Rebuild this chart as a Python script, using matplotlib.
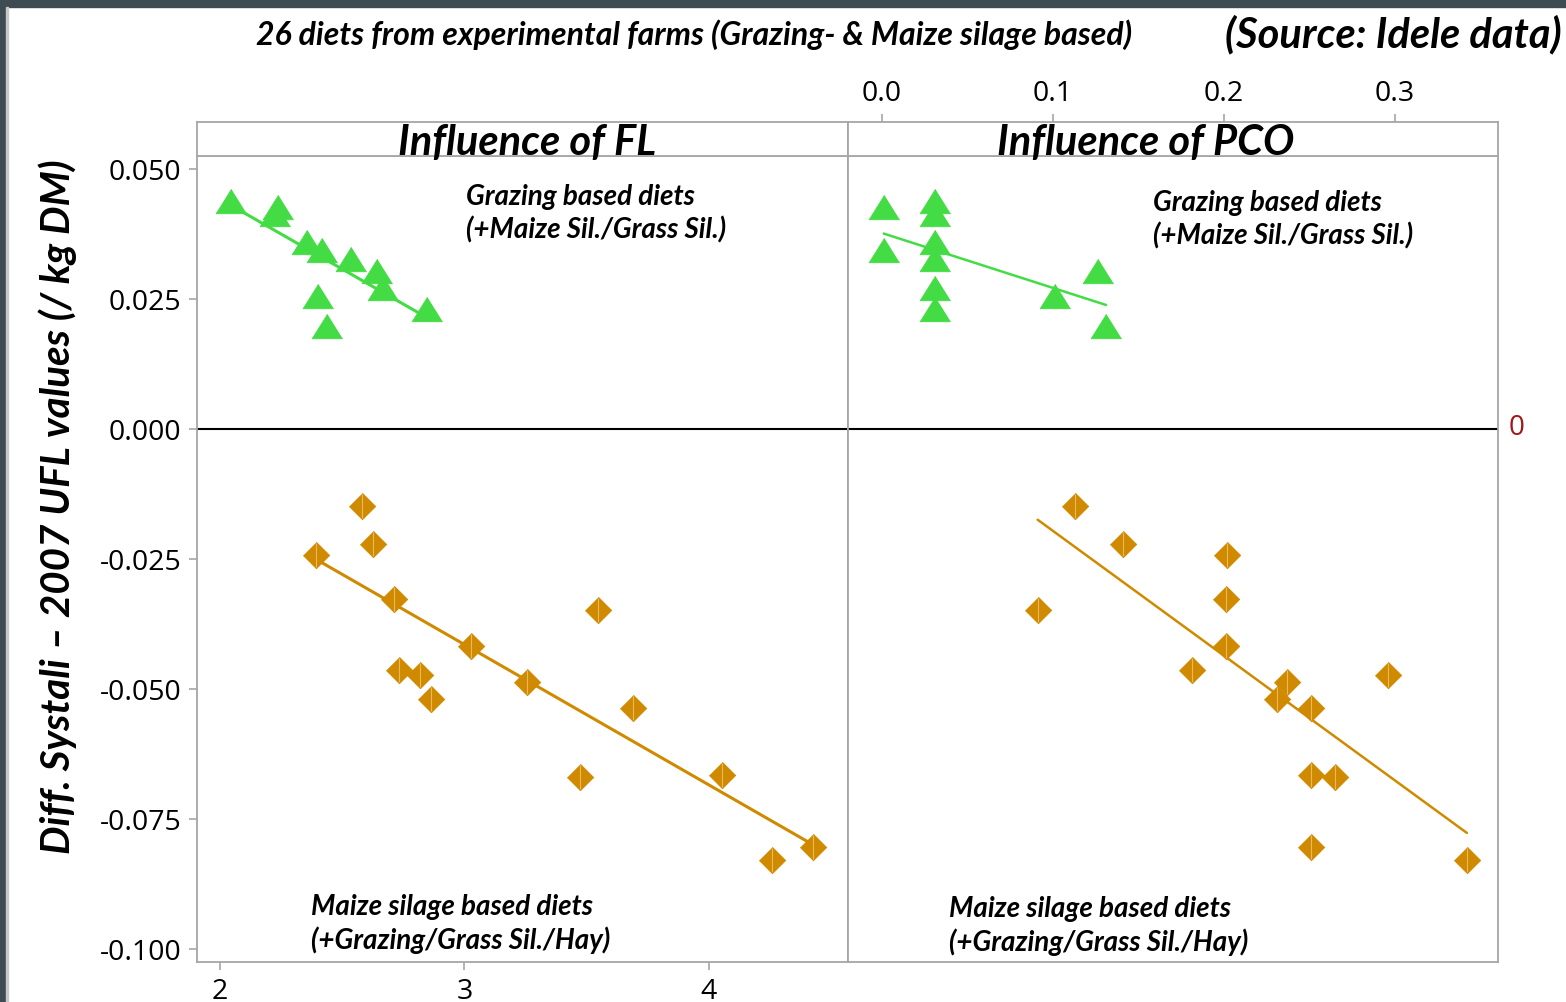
import numpy as np
import matplotlib.pyplot as plt
from matplotlib.patches import Rectangle

# grazing based diets (11) and maize silage based diets (15)
graz_diff = [0.0439, 0.0426, 0.0414, 0.0360, 0.0345, 0.0326, 0.0303, 0.0271, 0.0256, 0.0231, 0.0198]
graz_fl = [2.045, 2.237, 2.225, 2.356, 2.417, 2.536, 2.642, 2.667, 2.401, 2.847, 2.438]
graz_pco = [0.031, 0.001, 0.031, 0.031, 0.001, 0.031, 0.126, 0.031, 0.101, 0.031, 0.131]

maize_diff = [-0.0148, -0.0221, -0.0243, -0.0327, -0.0348, -0.0417, -0.0463, -0.0473,
              -0.0487, -0.0519, -0.0537, -0.0669, -0.0665, -0.0829, -0.0804]
maize_fl = [2.581, 2.626, 2.393, 2.712, 3.546, 3.027, 2.732, 2.818,
            3.256, 2.863, 3.689, 3.472, 4.053, 4.258, 4.425]
maize_pco = [0.113, 0.141, 0.202, 0.201, 0.091, 0.201, 0.181, 0.296,
             0.237, 0.231, 0.251, 0.265, 0.251, 0.342, 0.251]

y_ticks = [0.050, 0.025, 0.000, -0.025, -0.050, -0.075, -0.100]
fl_ticks = [2, 3, 4]
pco_ticks = [0.0, 0.1, 0.2, 0.3]

GREEN = "#44dc44"
ORANGE = "#d08a00"
GRID_GRAY = "#a6a6a6"
FONT = "Lato"

tri = [(0, 0.8), (-1, -0.8), (1, -0.8)]
dia = [(0, 1), (1, 0), (0, -1), (-1, 0)]

W, H = 1566, 1003
fig = plt.figure(figsize=(W / 100, H / 100), dpi=100)
fig.patch.set_facecolor("white")

# slide frame
fig.add_artist(Rectangle((0, 1 - 8 / H), 1, 8 / H, transform=fig.transFigure,
                         color="#3e4b53", zorder=0))
fig.add_artist(Rectangle((0, 0), 6 / W, 1, transform=fig.transFigure,
                         color="#3e4b53", zorder=0))
fig.add_artist(Rectangle((6 / W, 0), 2 / W, 1 - 8 / H, transform=fig.transFigure,
                         color="#c8c8c8", zorder=0))


def fx(px):
    return px / W


def fy(py):
    return 1 - py / H


y_lo, y_hi = -0.1025, 0.0525
ax1 = fig.add_axes([fx(197), fy(963), 651 / W, 806 / H])
ax2 = fig.add_axes([fx(848), fy(963), 650 / W, 806 / H])
ax1.set_xlim(1.906, 4.5685)
ax2.set_xlim(-0.0199, 0.3602)

for ax in (ax1, ax2):
    ax.set_ylim(y_lo, y_hi)
    for s in ax.spines.values():
        s.set_color(GRID_GRAY)
        s.set_linewidth(1.3)
    ax.axhline(0, color="black", lw=1.5, zorder=1)


def draw_group(ax, x, y, color, marker, ms, lw):
    x = np.asarray(x)
    y = np.asarray(y)
    k, b = np.polyfit(x, y, 1)
    xs = np.array([x.min(), x.max()])
    ax.plot(xs, k * xs + b, color=color, lw=lw, zorder=2, solid_capstyle="round")
    ax.plot(x, y, linestyle="none", marker=marker, ms=ms, mfc=color,
            mec=color, mew=0.6, zorder=3)


draw_group(ax1, graz_fl, graz_diff, GREEN, tri, 22, 2.2)
draw_group(ax1, maize_fl, maize_diff, ORANGE, dia, 19, 2.2)
draw_group(ax2, graz_pco, graz_diff, GREEN, tri, 22, 1.8)
draw_group(ax2, maize_pco, maize_diff, ORANGE, dia, 19, 1.8)
# light ridge on the diamonds
ax1.plot(maize_fl, maize_diff, linestyle="none", marker="|", ms=17, mew=0.8,
         color="#e9b860", zorder=4)
ax2.plot(maize_pco, maize_diff, linestyle="none", marker="|", ms=17, mew=0.8,
         color="#e9b860", zorder=4)

ax1.set_yticks(y_ticks)
ax1.set_yticklabels([f"{v:.3f}" for v in y_ticks])
ax1.set_xticks(fl_ticks)
ax1.set_xticklabels([str(v) for v in fl_ticks])
ax1.tick_params(axis="both", colors=GRID_GRAY, labelcolor="black", labelsize=20.5,
                length=6, width=1.2, pad=5)
for lab in ax1.get_xticklabels() + ax1.get_yticklabels():
    lab.set_fontfamily("Open Sans")
ax2.set_xticks([])
ax2.set_yticks([])

# panel strips
for x0, w, label, cx in [(197, 651, "Influence of FL", 527),
                         (848, 650, "Influence of PCO", 1146)]:
    st = fig.add_axes([fx(x0), fy(157), w / W, 34 / H])
    for s in st.spines.values():
        s.set_color(GRID_GRAY)
        s.set_linewidth(1.3)
    st.set_yticks([])
    st.set_xticks([])
    st.text((cx - x0) / w, 0.42, label, transform=st.transAxes, ha="center",
            va="center", fontsize=30, fontweight="bold", fontstyle="italic",
            family=FONT)
    if label.endswith("PCO"):
        st.set_xlim(ax2.get_xlim())
        st.xaxis.tick_top()
        st.set_xticks(pco_ticks)
        st.set_xticklabels([f"{v:.1f}" for v in pco_ticks], family="Open Sans")
        st.tick_params(axis="x", colors=GRID_GRAY, labelcolor="black",
                       labelsize=20.5, length=6, width=1.2, pad=5)

txt = dict(fontsize=20, fontweight="bold", fontstyle="italic", family=FONT,
           ha="left", va="center")
fig.text(fx(466), fy(197), "Grazing based diets", **txt)
fig.text(fx(466), fy(230), "(+Maize Sil./Grass Sil.)", **txt)
fig.text(fx(1153), fy(203), "Grazing based diets", **txt)
fig.text(fx(1153), fy(236), "(+Maize Sil./Grass Sil.)", **txt)
fig.text(fx(311), fy(907), "Maize silage based diets", **txt)
fig.text(fx(311), fy(940), "(+Grazing/Grass Sil./Hay)", **txt)
fig.text(fx(949), fy(909), "Maize silage based diets", **txt)
fig.text(fx(949), fy(942), "(+Grazing/Grass Sil./Hay)", **txt)

fig.text(fx(694), fy(35), "26 diets from experimental farms (Grazing- & Maize silage based)",
         fontsize=23, fontweight="bold", fontstyle="italic", family=FONT,
         ha="center", va="center")
fig.text(fx(1562), fy(35), "(Source: Idele data)", fontsize=30, fontweight="bold",
         fontstyle="italic", family=FONT, ha="right", va="center")
fig.text(fx(58), fy(507), "Diff. Systali \u2013 2007 UFL values (/ kg DM)", rotation=90,
         fontsize=29, fontweight="bold", fontstyle="italic", family=FONT,
         ha="center", va="center")
fig.text(fx(1517), fy(428), "0", color="#a01818", fontsize=20, family="Open Sans",
         ha="center", va="center")

fig.savefig("out.png", dpi=100)
